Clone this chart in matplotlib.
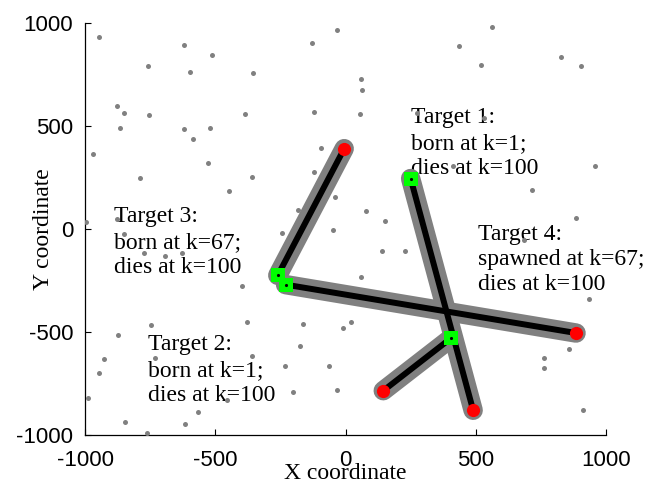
import matplotlib
matplotlib.use("Agg")
import matplotlib.pyplot as plt

# Target tracks: start (birth / spawn) and end (death) positions
track_start_x = [250, 405, -260, -230]
track_start_y = [245, -530, -225, -270]
track_end_x = [490, 145, -5, 885]
track_end_y = [-880, -785, 390, -505]

# Clutter measurements spread over the surveillance region
clutter_x = [-946, -620, -513, -758, -597, -355, -129, -877, -850, -754, -866, -620, -520,
             -585, -386, -121, -969, -528, -789, -359, -447, -94, -121, -998, -877, -850,
             -33, 562, 436, 520, 827, 904, 60, 63, 56, 274, 532, 413, 958, 716, 79, 152,
             -48, 885, 685, -774, -693, -628, -397, -747, -378, -163, -873, -927, -946,
             -731, -359, -175, -232, -63, -989, -455, -202, -566, -847, -616, -762, 140,
             228, 60, 21, -10, -33, 762, 762, 858, 912, 935, -40, -182, -244]
clutter_y = [932, 893, 845, 791, 762, 757, 903, 597, 563, 553, 490, 485, 490,
             437, 558, 568, 364, 320, 248, 252, 184, 393, 277, 34, 49, -24,
             966, 981, 888, 796, 835, 791, 728, 675, 558, 563, 539, 306, 306, 189, 87, 39,
             -5, 53, -53, -116, -131, -116, -277, -466, -451, -461, -515, -631, -699,
             -626, -616, -568, -665, -665, -820, -830, -791, -888, -937, -947, -990, -107,
             -107, -233, -451, -481, -781, -626, -675, -582, -879, -340, 155, 92, -19]

# Annotation text and anchor positions (upper-left corner of each block)
label_text = ["Target 1:\nborn at k=1;\ndies at k=100",
              "Target 2:\nborn at k=1;\ndies at k=100",
              "Target 3:\nborn at k=67;\ndies at k=100",
              "Target 4:\nspawned at k=67;\ndies at k=100"]
label_x = [250, -760, -890, 510]
label_y = [590, -512, 110, 25]

x_ticks = [-1000, -500, 0, 500, 1000]
y_ticks = [-1000, -500, 0, 500, 1000]

grey = "#808080"
serif = ["Liberation Serif", "DejaVu Serif"]
sans = ["Liberation Sans", "DejaVu Sans"]

fig = plt.figure(figsize=(6.46, 4.83), dpi=100)
ax = fig.add_axes([85 / 646, 1 - 435 / 483, 521 / 646, 412 / 483])

# clutter
ax.plot(clutter_x, clutter_y, "o", color=grey, markersize=3.6, markeredgewidth=0, zorder=3)

for sx, sy, ex, ey in zip(track_start_x, track_start_y, track_end_x, track_end_y):
    # cloud of target-originated measurements around the track
    ax.plot([sx, ex], [sy, ey], color=grey, lw=14, solid_capstyle="round", zorder=3)
for sx, sy, ex, ey in zip(track_start_x, track_start_y, track_end_x, track_end_y):
    ax.plot([sx, ex], [sy, ey], color="black", lw=4.3, solid_capstyle="butt", zorder=4)

ax.plot(track_end_x, track_end_y, "o", color="#ff0000", markersize=9.5,
        markeredgewidth=0, zorder=5)
ax.plot(track_start_x, track_start_y, "s", color="#00ff00", markersize=10.5,
        markeredgewidth=0, zorder=5)
ax.plot(track_start_x, track_start_y, ".", color="black", markersize=2.5, zorder=6)

for t, x, y in zip(label_text, label_x, label_y):
    ax.text(x, y, t, ha="left", va="top", fontsize=17, family=serif,
            linespacing=1.27, zorder=2)

ax.set_xlim(-1000, 1000)
ax.set_ylim(-1000, 1000)
ax.set_xticks(x_ticks)
ax.set_yticks(y_ticks)
ax.set_xticklabels([str(v) for v in x_ticks], family=sans, fontsize=16)
ax.set_yticklabels([str(v) for v in y_ticks], family=sans, fontsize=16)
ax.tick_params(axis="x", direction="in", length=4, width=0.8, pad=11)
ax.tick_params(axis="y", direction="in", length=4, width=0.8, pad=8.5)
for side in ("top", "right"):
    ax.spines[side].set_visible(False)
for side in ("left", "bottom"):
    ax.spines[side].set_linewidth(0.9)

ax.set_xlabel("X coordinate", family=serif, fontsize=17)
ax.set_ylabel("Y coordinate", family=serif, fontsize=17)
ax.xaxis.set_label_coords(0.5, -0.068)
ax.yaxis.set_label_coords(-0.06, 0.5)

fig.savefig("out.png", dpi=100)
